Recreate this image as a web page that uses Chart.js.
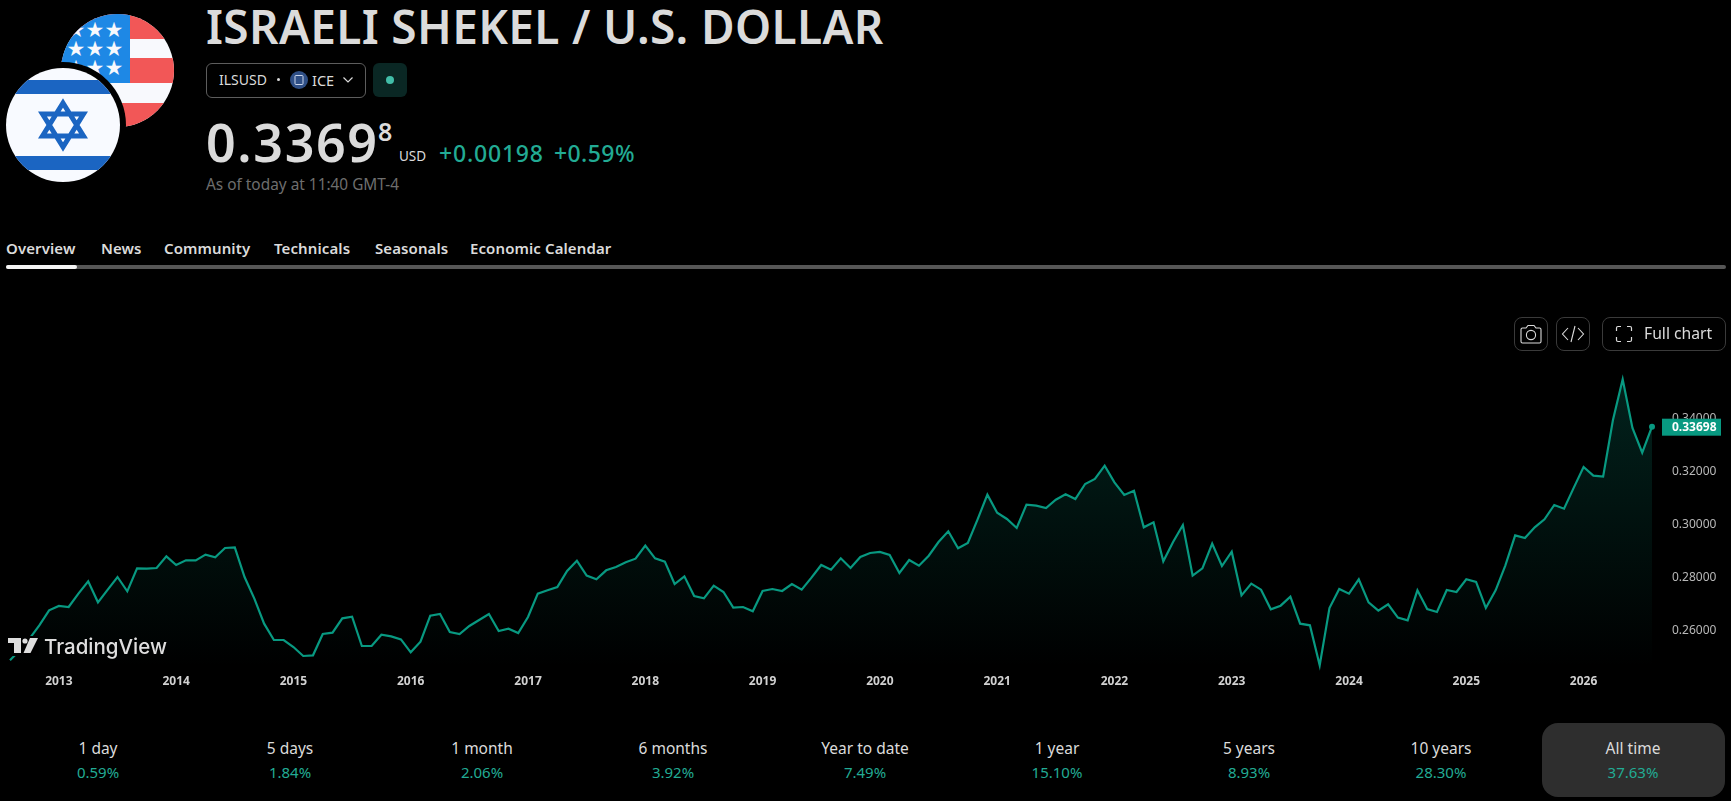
<!DOCTYPE html>
<html>
<head>
<meta charset="utf-8">
<title>ILSUSD</title>
<script src="https://cdn.jsdelivr.net/npm/chart.js@4"></script>
<style>
    html, body { margin: 0; padding: 0; background: #000; overflow: hidden; }
    body { width: 1731px; height: 801px; position: relative; font-family: "Noto Sans", sans-serif; color: #dbdbdb; }
    .abs { position: absolute; white-space: nowrap; line-height: 1; }
    #priceChart { position: absolute; left: 0; top: 322px; }
    .title { left: 206px; top: 2px; font-size: 46px; font-weight: 600; color: #dbdbdb; letter-spacing: 0.35px; line-height: 48px; }
    .pill { left: 206px; top: 63px; width: 158px; height: 33px; border: 1px solid #5d5d5d; border-radius: 6px; }
    .status { left: 373px; top: 63px; width: 34px; height: 34px; background: #0a2724; border-radius: 6px; }
    .status i { position: absolute; left: 13px; top: 13px; width: 8px; height: 8px; border-radius: 50%; background: #42bda8; }
    .price { left: 206px; top: 113px; font-size: 52px; font-weight: 600; line-height: 58px; letter-spacing: 1.6px; }
    .frac { left: 378px; top: 116px; font-size: 25px; font-weight: 600; line-height: 30px; }
    .green { color: #22ab94; }
    .tab { top: 238px; font-size: 15px; font-weight: 600; line-height: 20px; color: #dbdbdb; letter-spacing: 0.1px; }
    .btn { border: 1px solid #3a3a3a; border-radius: 8px; box-sizing: border-box; }
    .stat { width: 160px; text-align: center; font-size: 15.5px; line-height: 18px; }
    .stat.green { font-size: 15px; }
</style>
</head>
<body>
<canvas id="priceChart" width="1731" height="380"></canvas>

<!-- flags -->
<svg class="abs" style="left:0;top:0" width="190" height="190">
    <defs>
        <clipPath id="us"><circle cx="117.5" cy="70.5" r="56.5"/></clipPath>
        <clipPath id="il"><circle cx="63" cy="125" r="57"/></clipPath>
    </defs>
    <g clip-path="url(#us)">
        <rect x="60" y="14" width="116" height="114" fill="#f8f9fd"/>
        <rect x="60" y="14" width="116" height="25" fill="#f25757"/>
        <rect x="60" y="58" width="116" height="25" fill="#f25757"/>
        <rect x="60" y="103" width="116" height="25" fill="#f25757"/>
        <rect x="60" y="14" width="70" height="69" fill="#1e88e5"/>
        <g fill="#f8f9fd" font-size="21" text-anchor="middle" font-family="DejaVu Sans">
            <text x="76" y="37">★</text><text x="95" y="37">★</text><text x="114" y="37">★</text>
            <text x="76" y="56">★</text><text x="95" y="56">★</text><text x="114" y="56">★</text>
            <text x="76" y="75">★</text><text x="95" y="75">★</text><text x="114" y="75">★</text>
        </g>
    </g>
    <circle cx="63" cy="125" r="63" fill="#000"/>
    <g clip-path="url(#il)">
        <rect x="0" y="60" width="130" height="130" fill="#f8faff"/>
        <rect x="0" y="80" width="130" height="14" fill="#1b65c2"/>
        <rect x="0" y="156" width="130" height="14" fill="#1b65c2"/>
        <path d="M63 103 L83.5 136 L42.5 136 Z M63 147 L42.5 114 L83.5 114 Z" fill="none" stroke="#1b65c2" stroke-width="5" stroke-linejoin="miter"/>
    </g>
</svg>

<div class="abs title">ISRAELI SHEKEL / U.S. DOLLAR</div>

<div class="abs pill"></div>
<div class="abs" style="left:219px;top:71px;font-size:14px;line-height:18px">ILSUSD</div>
<div class="abs" style="left:277px;top:78px;width:3px;height:3px;border-radius:50%;background:#dbdbdb"></div>
<svg class="abs" style="left:290px;top:71px" width="18" height="18">
    <circle cx="9" cy="9" r="9" fill="#2f4f86"/>
    <rect x="5" y="4.5" width="8" height="9" rx="1" fill="none" stroke="#c8d4ea" stroke-width="1"/>
</svg>
<div class="abs" style="left:312px;top:71px;font-size:14.5px;line-height:18px">ICE</div>
<svg class="abs" style="left:342px;top:76px" width="12" height="8">
    <path d="M1.5 1.5 L6 6 L10.5 1.5" fill="none" stroke="#dbdbdb" stroke-width="1.2"/>
</svg>
<div class="abs status"><i></i></div>

<div class="abs price">0.3369</div>
<div class="abs frac">8</div>
<div class="abs" style="left:399px;top:147px;font-size:13.5px;line-height:18px">USD</div>
<div class="abs green" style="left:439px;top:139px;font-size:23px;font-weight:500;line-height:28px;letter-spacing:0.8px">+0.00198</div>
<div class="abs green" style="left:554px;top:139px;font-size:23px;font-weight:500;line-height:28px;letter-spacing:0.4px">+0.59%</div>
<div class="abs" style="left:206px;top:176px;font-size:15.4px;line-height:18px;color:#6e6e6e">As of today at 11:40 GMT-4</div>

<div id="tabs"></div>
<div class="abs" style="left:6px;top:265px;width:1720px;height:4px;background:#565656;border-radius:2px"></div>
<div class="abs" style="left:6px;top:265px;width:71px;height:4px;background:#f5f5f5;border-radius:2px"></div>

<!-- chart toolbar -->
<div class="abs btn" style="left:1514px;top:317px;width:34px;height:34px"></div>
<svg class="abs" style="left:1519px;top:323px" width="24" height="22" fill="none" stroke="#dbdbdb" stroke-width="1.1">
    <path d="M2 6.5 Q2 5 3.5 5 H7 L9 2.5 H15 L17 5 H20.5 Q22 5 22 6.5 V18.5 Q22 20 20.5 20 H3.5 Q2 20 2 18.5 Z"/>
    <circle cx="12" cy="12" r="4.6"/>
</svg>
<div class="abs btn" style="left:1556px;top:317px;width:34px;height:34px"></div>
<svg class="abs" style="left:1561px;top:323px" width="24" height="22" fill="none" stroke="#dbdbdb" stroke-width="1.1">
    <path d="M7 5 L1.5 11 L7 17 M17 5 L22.5 11 L17 17 M14 3 L10 19"/>
</svg>
<div class="abs btn" style="left:1602px;top:317px;width:124px;height:34px"></div>
<svg class="abs" style="left:1615px;top:325px" width="18" height="18" fill="none" stroke="#dbdbdb" stroke-width="1.2">
    <path d="M1.5 6 V3 Q1.5 1.5 3 1.5 H6 M12 1.5 H15 Q16.5 1.5 16.5 3 V6 M16.5 12 V15 Q16.5 16.5 15 16.5 H12 M6 16.5 H3 Q1.5 16.5 1.5 15 V12"/>
</svg>
<div class="abs" style="left:1644px;top:323px;font-size:15.7px;line-height:20px">Full chart</div>

<!-- watermark, sits on a black patch over the line start -->
<div class="abs" style="left:7px;top:636px;width:32px;height:20px;background:#000"></div>
<svg class="abs" style="left:8px;top:637px" width="32" height="18" fill="#dedede">
    <path d="M0 1 H13 V16 H6 V6 H0 Z"/>
    <circle cx="17" cy="4" r="2.6"/>
    <path d="M22 1 H30 L22.5 16 H15.5 Z"/>
</svg>
<div class="abs" style="left:44px;top:634px;font-family:Inter,sans-serif;font-size:20.5px;font-weight:500;line-height:26px;color:#dedede">TradingView</div>

<!-- performance row -->
<div class="abs" style="left:1542px;top:723px;width:183px;height:74px;background:#2e2e2e;border-radius:16px"></div>
<div id="stats"></div>

<script>
// Tabs and performance strip
const tabNames = ['Overview', 'News', 'Community', 'Technicals', 'Seasonals', 'Economic Calendar'];
const statLabels = ['1 day', '5 days', '1 month', '6 months', 'Year to date', '1 year', '5 years', '10 years', 'All time'];
const statValues = ['0.59%', '1.84%', '2.06%', '3.92%', '7.49%', '15.10%', '8.93%', '28.30%', '37.63%'];

// Monthly closes, Aug 2012 - Aug 2026
const months = [
    '2012-08', '2012-09', '2012-10', '2012-11', '2012-12',
    '2013-01', '2013-02', '2013-03', '2013-04', '2013-05', '2013-06', '2013-07', '2013-08', '2013-09', '2013-10', '2013-11', '2013-12',
    '2014-01', '2014-02', '2014-03', '2014-04', '2014-05', '2014-06', '2014-07', '2014-08', '2014-09', '2014-10', '2014-11', '2014-12',
    '2015-01', '2015-02', '2015-03', '2015-04', '2015-05', '2015-06', '2015-07', '2015-08', '2015-09', '2015-10', '2015-11', '2015-12',
    '2016-01', '2016-02', '2016-03', '2016-04', '2016-05', '2016-06', '2016-07', '2016-08', '2016-09', '2016-10', '2016-11', '2016-12',
    '2017-01', '2017-02', '2017-03', '2017-04', '2017-05', '2017-06', '2017-07', '2017-08', '2017-09', '2017-10', '2017-11', '2017-12',
    '2018-01', '2018-02', '2018-03', '2018-04', '2018-05', '2018-06', '2018-07', '2018-08', '2018-09', '2018-10', '2018-11', '2018-12',
    '2019-01', '2019-02', '2019-03', '2019-04', '2019-05', '2019-06', '2019-07', '2019-08', '2019-09', '2019-10', '2019-11', '2019-12',
    '2020-01', '2020-02', '2020-03', '2020-04', '2020-05', '2020-06', '2020-07', '2020-08', '2020-09', '2020-10', '2020-11', '2020-12',
    '2021-01', '2021-02', '2021-03', '2021-04', '2021-05', '2021-06', '2021-07', '2021-08', '2021-09', '2021-10', '2021-11', '2021-12',
    '2022-01', '2022-02', '2022-03', '2022-04', '2022-05', '2022-06', '2022-07', '2022-08', '2022-09', '2022-10', '2022-11', '2022-12',
    '2023-01', '2023-02', '2023-03', '2023-04', '2023-05', '2023-06', '2023-07', '2023-08', '2023-09', '2023-10', '2023-11', '2023-12',
    '2024-01', '2024-02', '2024-03', '2024-04', '2024-05', '2024-06', '2024-07', '2024-08', '2024-09', '2024-10', '2024-11', '2024-12',
    '2025-01', '2025-02', '2025-03', '2025-04', '2025-05', '2025-06', '2025-07', '2025-08', '2025-09', '2025-10', '2025-11', '2025-12',
    '2026-01', '2026-02', '2026-03', '2026-04', '2026-05', '2026-06', '2026-07', '2026-08'
];

const rates = [
    0.24882, 0.25259, 0.25699, 0.26202, 0.26768,
    0.26932, 0.26894, 0.27397, 0.27863, 0.27070, 0.27548, 0.28026, 0.27485, 0.28353, 0.28341, 0.28366, 0.28806,
    0.28479, 0.28655, 0.28655, 0.28869, 0.28768, 0.29121, 0.29146, 0.28026, 0.27209, 0.26265, 0.25649, 0.25649,
    0.25385, 0.25045, 0.25070, 0.25875, 0.25926, 0.26466, 0.26529, 0.25422, 0.25422, 0.25850, 0.25787, 0.25674,
    0.25184, 0.25586, 0.26567, 0.26630, 0.25951, 0.25875, 0.26177, 0.26404, 0.26630, 0.25989, 0.26077, 0.25913,
    0.26517, 0.27397, 0.27523, 0.27649, 0.28253, 0.28643, 0.28077, 0.27938, 0.28278, 0.28404, 0.28580, 0.28718,
    0.29209, 0.28731, 0.28605, 0.27762, 0.28051, 0.27309, 0.27221, 0.27699, 0.27460, 0.26869, 0.26894, 0.26731,
    0.27498, 0.27573, 0.27498, 0.27762, 0.27548, 0.28001, 0.28479, 0.28303, 0.28731, 0.28366, 0.28781, 0.28932,
    0.28970, 0.28856, 0.28177, 0.28668, 0.28454, 0.28831, 0.29347, 0.29750, 0.29108, 0.29309, 0.30202, 0.31133,
    0.30454, 0.30215, 0.29875, 0.30756, 0.30718, 0.30630, 0.30944, 0.31146, 0.30970, 0.31536, 0.31724, 0.32227,
    0.31599, 0.31121, 0.31284, 0.29900, 0.30089, 0.28617, 0.29347, 0.29988, 0.28077, 0.28353, 0.29284, 0.28441,
    0.28982, 0.27334, 0.27775, 0.27548, 0.26806, 0.26944, 0.27284, 0.26265, 0.26202, 0.24693, 0.26856, 0.27574,
    0.27398, 0.27939, 0.27071, 0.26756, 0.26995, 0.26492, 0.26391, 0.27524, 0.26819, 0.26706, 0.27536, 0.27461,
    0.27939, 0.27838, 0.26857, 0.27524, 0.28467, 0.29599, 0.29498, 0.29901, 0.30203, 0.30744, 0.30605, 0.31398,
    0.32178, 0.31851, 0.31813, 0.33939, 0.35486, 0.33649, 0.32718, 0.33698
];

const priceTicks = [0.26, 0.28, 0.30, 0.32, 0.34];
const lastPrice = 0.33698;

const lineColor = '#089981';

// Build the html bits from the arrays above
const tabLefts = [6, 101, 164, 274, 375, 470];
document.getElementById('tabs').innerHTML = tabNames.map((name, i) =>
    `<div class="abs tab" style="left:${tabLefts[i]}px">${name}</div>`).join('');

const statCenters = [98, 290, 482, 673, 865, 1057, 1249, 1441, 1633];
document.getElementById('stats').innerHTML = statLabels.map((name, i) =>
    `<div class="abs stat" style="left:${statCenters[i] - 80}px;top:739px">${name}</div>` +
    `<div class="abs stat green" style="left:${statCenters[i] - 80}px;top:763px">${statValues[i]}</div>`).join('');

// Price tag on the right axis, painted over the 0.34000 tick
const lastPriceTag = {
    id: 'lastPriceTag',
    afterDraw(chart) {
        const { ctx, scales } = chart;
        const y = scales.y.getPixelForValue(lastPrice);
        ctx.save();
        ctx.fillStyle = lineColor;
        ctx.fillRect(1662, y - 8, 59, 17);
        ctx.fillStyle = '#fff';
        ctx.font = 'bold 12px "Noto Sans"';
        ctx.textBaseline = 'middle';
        ctx.fillText(lastPrice.toFixed(5), 1672, y + 0.5);
        ctx.restore();
    }
};

const ctx = document.getElementById('priceChart').getContext('2d');

const areaFill = ctx.createLinearGradient(0, 40, 0, 345);
areaFill.addColorStop(0, 'rgba(8, 153, 129, 0.24)');
areaFill.addColorStop(1, 'rgba(8, 153, 129, 0)');

new Chart(ctx, {
    type: 'line',
    data: {
        labels: months,
        datasets: [{
            data: rates,
            borderColor: lineColor,
            borderWidth: 2.2,
            backgroundColor: areaFill,
            fill: 'start',
            tension: 0,
            pointRadius: (c) => (c.dataIndex === rates.length - 1 ? 3 : 0),
            pointBackgroundColor: lineColor,
            pointBorderWidth: 0
        }]
    },
    options: {
        responsive: false,
        animation: false,
        layout: { padding: { left: 10, top: 20, right: 0, bottom: 0 } },
        plugins: { legend: { display: false }, tooltip: { enabled: false } },
        scales: {
            x: {
                grid: { display: false, drawTicks: false },
                border: { display: false },
                // pin the plot area, the library would pad it for the tick labels
                afterFit(scale) { scale.height = 30; scale.paddingLeft = 0; scale.paddingRight = 0; },
                ticks: {
                    autoSkip: false,
                    maxRotation: 0,
                    minRotation: 0,
                    padding: 2,
                    color: '#d1d1d1',
                    font: { family: '"Noto Sans"', size: 12, weight: 'bold' },
                    callback(value) {
                        const label = this.getLabelForValue(value);
                        return label.endsWith('-01') ? label.slice(0, 4) : '';
                    }
                }
            },
            y: {
                position: 'right',
                min: 0.24441,
                max: 0.36894,
                grid: { display: false, drawTicks: false },
                border: { display: false },
                afterFit(scale) { scale.width = 79; scale.paddingTop = 0; scale.paddingBottom = 0; },
                afterBuildTicks(scale) { scale.ticks = priceTicks.map((v) => ({ value: v })); },
                ticks: {
                    padding: 20,
                    color: '#b8b8b8',
                    font: { family: '"Noto Sans"', size: 12 },
                    callback: (value) => value.toFixed(5)
                }
            }
        }
    },
    plugins: [lastPriceTag]
});
</script>
</body>
</html>
